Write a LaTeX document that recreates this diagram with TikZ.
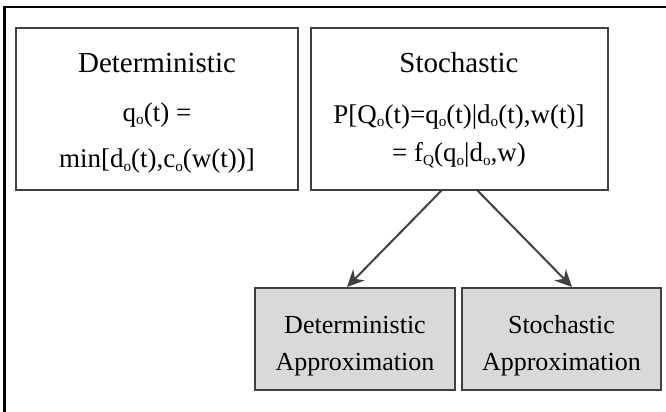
\documentclass[tikz,border=0pt]{standalone}
\usepackage{fontspec}
\setmainfont{Liberation Serif}
\usetikzlibrary{arrows.meta}
\definecolor{edge}{HTML}{404040}
\definecolor{boxfill}{HTML}{D9D9D9}
\newcommand\lowsub[1]{\raisebox{-0.13em}{\fontsize{7.6}{8}\selectfont #1}}
\begin{document}
\begin{tikzpicture}[x=0.5pt,y=-0.5pt,
  frame/.style={draw=black,line width=1pt},
  topbox/.style={draw=edge,line width=1pt,fill=white,inner sep=0pt},
  lowbox/.style={draw=edge,line width=1pt,fill=boxfill,inner sep=0pt},
  titletxt/.style={anchor=base,inner sep=0pt,font=\fontsize{14.5}{17}\selectfont},
  formtxt/.style={anchor=base,inner sep=0pt,font=\fontsize{13.5}{16}\selectfont},
  smalltxt/.style={anchor=base,inner sep=0pt,font=\fontsize{13}{15}\selectfont},
  arr/.style={draw=edge,line width=1pt,-{Stealth[length=8.5pt,width=8pt]}}]
\useasboundingbox (0,0) rectangle (666,412);
\draw[frame] (4.5,412) -- (4.5,7) -- (666,7);
% top boxes
\node[topbox,minimum width=141pt,minimum height=81pt] (det) at (157,109) {};
\node[topbox,minimum width=148.5pt,minimum height=81pt] (sto) at (459,109) {};
% lower boxes
\node[lowbox,minimum width=100pt,minimum height=51pt] (da) at (355,339) {};
\node[lowbox,minimum width=99.5pt,minimum height=51pt] (sa) at (561.5,339) {};
% texts
\node[titletxt] (t1) at (157,73) {Deterministic};
\node[formtxt] (t2) at (157,121) {q\lowsub{o}(t) =};
\node[formtxt] (t3) at (157,168) {min[d\lowsub{o}(t),c\lowsub{o}(w(t))]};
\node[titletxt] (s1) at (459,73) {Stochastic};
\node[formtxt] (s2) at (459,123) {P[Q\lowsub{o}(t)=q\lowsub{o}(t)|d\lowsub{o}(t),w(t)]};
\node[formtxt] (s3) at (459,162) {= f\lowsub{Q}(q\lowsub{o}|d\lowsub{o},w)};
\node[smalltxt] (d1) at (355,333) {Deterministic};
\node[smalltxt] (d2) at (355,371) {Approximation};
\node[smalltxt] (a1) at (561.5,333) {Stochastic};
\node[smalltxt] (a2) at (561.5,371) {Approximation};
% arrows
\coordinate (c1) at (442,190);
\coordinate (c2) at (477,190);
\draw[arr] (c1) -- (da.north -| 347,0);
\draw[arr] (c2) -- (sa.north -| 572,0);
\end{tikzpicture}
\end{document}
